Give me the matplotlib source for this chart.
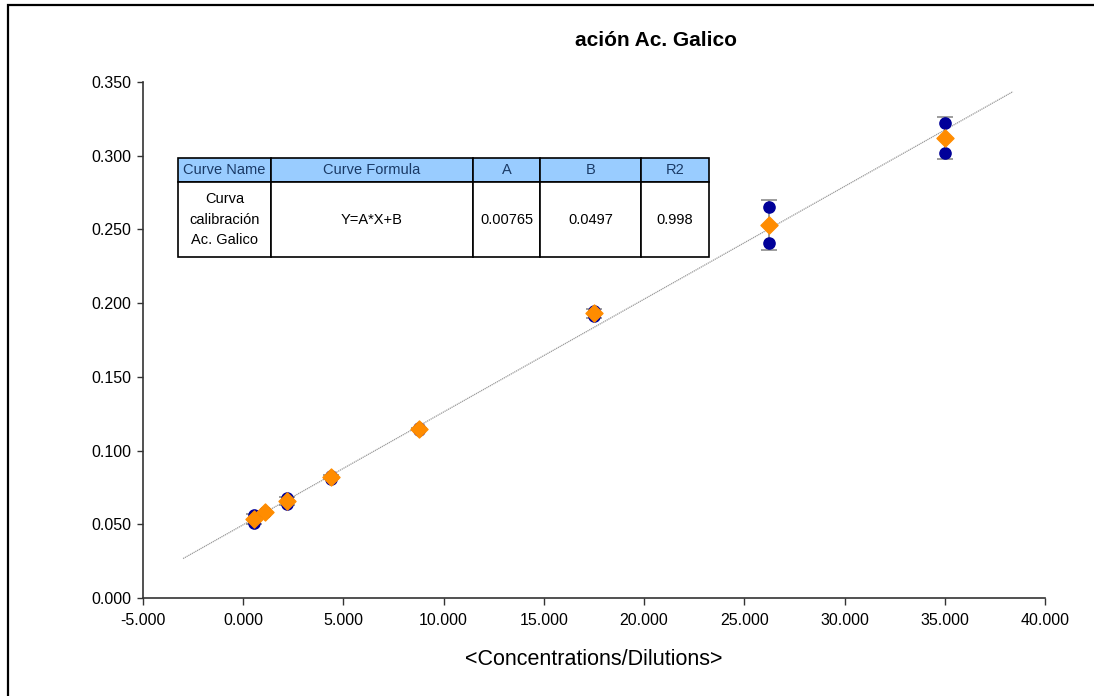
import matplotlib
matplotlib.use("Agg")
import matplotlib.pyplot as plt
import numpy as np
from matplotlib.patches import Rectangle
from matplotlib.ticker import FormatStrFormatter

# calibration points: two replicates per concentration plus mean and error
conc = [0.547, 1.094, 2.188, 4.375, 8.75, 17.5, 26.25, 35.0]
rep1 = [0.056, 0.058, 0.068, 0.083, 0.115, 0.195, 0.265, 0.322]
rep2 = [0.051, 0.058, 0.064, 0.081, 0.114, 0.191, 0.241, 0.302]
mean_y = [0.0535, 0.058, 0.066, 0.082, 0.1145, 0.193, 0.253, 0.312]
err_y = [0.0035, 0.0005, 0.0028, 0.0014, 0.0007, 0.0028, 0.017, 0.014]

# fitted curve Y = A*X + B
coef_a = 0.00765
coef_b = 0.0497
fit_range = [-3.0, 38.4]

col_labels = ["Curve Name", "Curve Formula", "A", "B", "R2"]
row_cells = ["Curva\ncalibración\nAc. Galico", "Y=A*X+B", "0.00765", "0.0497", "0.998"]
col_px = [93, 202, 67, 101, 68]

plt.rcParams['font.family'] = ['Liberation Sans', 'DejaVu Sans']

fig = plt.figure(figsize=(10.94, 6.96), dpi=100)
ax = fig.add_axes([143/1094, 1-598/696, 902/1094, 516/696])

# outer frame of the chart area (runs off the right/bottom edge)
fig.patches.append(Rectangle((8/1094, -0.05), 1.2, 1-5/696+0.05, transform=fig.transFigure,
                             fill=False, edgecolor="black", linewidth=1.6))

fx = np.array(fit_range)
ax.plot(fx, coef_a*fx + coef_b, color="#9a9a9a", linewidth=0.9, linestyle=(0, (1, 0.6)), zorder=1)

ax.errorbar(conc, mean_y, yerr=err_y, fmt="none", ecolor="#8c8c8c", elinewidth=1.2,
            capsize=5.5, capthick=1.2, zorder=2)
ax.scatter(conc, rep1, s=65, color="#000099", zorder=3)
ax.scatter(conc, rep2, s=65, color="#000099", zorder=3)
ax.scatter(conc, mean_y, s=75, marker="D", color="#FF8C00", zorder=4)

ax.set_xlim(-5, 40)
ax.set_ylim(0, 0.35)
ax.set_xticks(np.arange(-5, 41, 5))
ax.set_yticks(np.arange(0, 0.351, 0.05))
ax.xaxis.set_major_formatter(FormatStrFormatter("%.3f"))
ax.yaxis.set_major_formatter(FormatStrFormatter("%.3f"))
ax.tick_params(axis="x", labelsize=11.5, length=5, width=1, color="#333333", pad=6)
ax.tick_params(axis="y", labelsize=11.5, length=4, width=1, color="#333333", pad=4.5)
for s in ["top", "right"]:
    ax.spines[s].set_visible(False)
for s in ["left", "bottom"]:
    ax.spines[s].set_color("#333333")
    ax.spines[s].set_linewidth(1.2)

ax.set_xlabel("<Concentrations/Dilutions>", fontsize=15.5, labelpad=15)
fig.text(656/1094, 1-40/696, "ación Ac. Galico", ha="center", va="center",
         fontsize=15, fontweight="bold")

# parameter table
tx0 = (178-143)/902
ty0 = (598-257)/516
tw = 531/902
th = 99/516
tab = ax.table(cellText=[row_cells], colLabels=col_labels, cellLoc="center",
               colWidths=[c/531 for c in col_px], bbox=[tx0, ty0, tw, th])
tab.auto_set_font_size(False)
for (r, c), cell in tab.get_celld().items():
    cell.set_linewidth(1.2)
    cell.set_edgecolor("black")
    cell.get_text().set_fontsize(10.5)
    if r == 0:
        cell.set_facecolor("#99CCFF")
        cell.set_height(24)
        cell.get_text().set_color("#1a3a66")
    else:
        cell.set_height(75)
        cell.get_text().set_linespacing(1.6)
tab.set_zorder(5)

fig.savefig("out.png", dpi=100)
